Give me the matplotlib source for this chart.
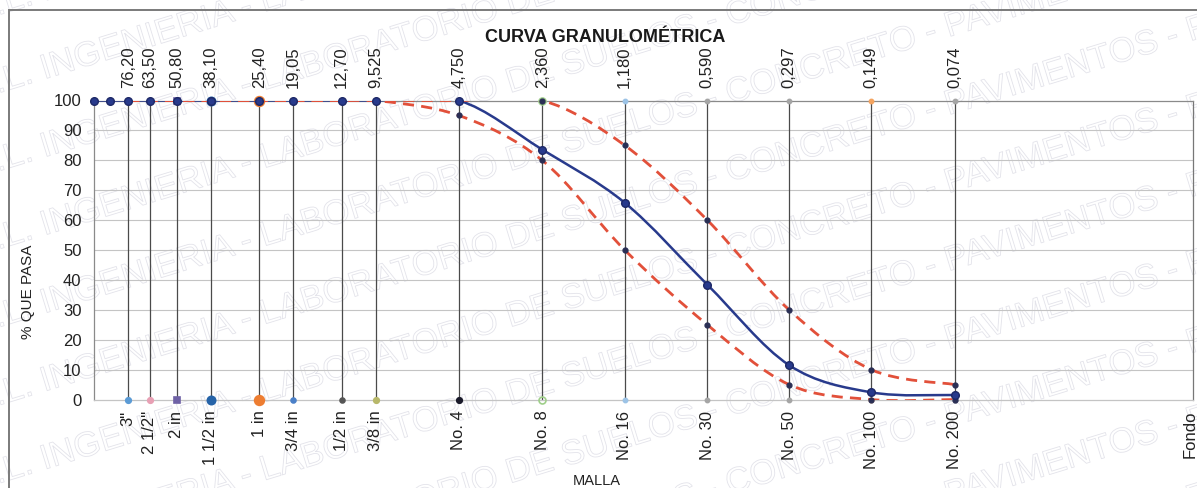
import numpy as np
import matplotlib
matplotlib.use('Agg')
import matplotlib.pyplot as plt
import matplotlib.patheffects as pe
from matplotlib.path import Path
from matplotlib.patches import PathPatch, Rectangle

plt.rcParams['font.family'] = ['Liberation Sans', 'DejaVu Sans']

# =============================================================================
# Datos del ensayo
# =============================================================================
# aberturas de los tamices (mm) y su nombre
aberturas = [76.2, 63.5, 50.8, 38.1, 25.4, 19.05, 12.7, 9.525,
             4.75, 2.36, 1.18, 0.59, 0.297, 0.149, 0.074]
aberturas_txt = ['76,20', '63,50', '50,80', '38,10', '25,40', '19,05', '12,70', '9,525',
                 '4,750', '2,360', '1,180', '0,590', '0,297', '0,149', '0,074']
mallas = ['3"', '2 1/2"', '2 in', '1 1/2 in', '1 in', '3/4 in', '1/2 in', '3/8 in',
          'No. 4', 'No. 8', 'No. 16', 'No. 30', 'No. 50', 'No. 100', 'No. 200']
fondo = 0.01

# curva granulometrica de la muestra
tamanos = [101.6, 88.9, 76.2, 63.5, 50.8, 38.1, 25.4, 19.05, 12.7, 9.525,
           4.75, 2.36, 1.18, 0.59, 0.297, 0.149, 0.074]
pasa = [100, 100, 100, 100, 100, 100, 100, 100, 100, 100,
        100, 83.6, 65.8, 38.4, 11.5, 2.4, 1.5]

# limites del huso granulometrico
lim_sup = [100, 100, 100, 100, 100, 100, 100, 100, 100, 100, 85, 60, 30, 10, 5]
lim_inf = [100, 100, 100, 100, 100, 100, 100, 100, 95, 80, 50, 25, 5, 0, 0]

# colores de los marcadores en los extremos de cada malla
extremo_col = ['#5b9bd5', '#e8a0b4', '#6f62a6', '#2563a8', '#ed7d31', '#4a80c8', '#555555',
               '#b8b86a', '#1a1a2a', '#9fcf8a', '#9cc3e6', '#a5a5a5', '#a5a5a5', '#f4a460', '#a5a5a5']
extremo_mk = ['o', 'o', 's', 'o', 'o', 'o', 'o', 'o', 'o', 'o', 'o', 'o', 'o', 'o', 'o']
extremo_ms = [4, 4, 4, 6, 7, 3.5, 3.5, 4, 4, 5, 3, 3, 3, 3, 3]

azul = '#283a8c'
rojo = '#e2503a'


def curva_suave(x, y):
    # curva suavizada (Bezier tipo Catmull-Rom) trazada en escala log
    pts = np.column_stack([np.log10(x), np.asarray(y, float)])
    n = len(pts)
    verts = [pts[0]]
    codes = [Path.MOVETO]
    for i in range(n - 1):
        p0 = pts[i - 1] if i > 0 else pts[i]
        p1 = pts[i]
        p2 = pts[i + 1]
        p3 = pts[i + 2] if i + 2 < n else pts[i + 1]
        verts += [p1 + (p2 - p0) / 6, p2 - (p3 - p1) / 6, p2]
        codes += [Path.CURVE4] * 3
    verts = np.array(verts)
    verts[:, 0] = 10 ** verts[:, 0]
    return Path(verts, codes)


# =============================================================================
# Grafico
# =============================================================================
fig = plt.figure(figsize=(11.97, 4.88), dpi=100)
ax = fig.add_axes([94 / 1197, 1 - 399.5 / 488, 1099 / 1197, 299 / 488])
ax.patch.set_facecolor('none')

# marca de agua
marca = 'R.L. INGENIERIA - LABORATORIO DE SUELOS - CONCRETO - PAVIMENTOS - '
for y0 in np.arange(-1.3, 1.0, 0.16):
    t = fig.text(-0.02, y0, marca * 2, rotation=17, rotation_mode='anchor',
                 ha='left', va='bottom', fontsize=25, color='none', zorder=-1,
                 path_effects=[pe.Stroke(linewidth=0.6, foreground='#e3e3ea')])
    t.set_clip_on(True)
    t.set_clip_box(fig.bbox)

# marco exterior
fig.add_artist(Rectangle((9 / 1197, -0.05), 1.2, 1 - 10 / 488 + 0.05,
                         transform=fig.transFigure, fill=False,
                         edgecolor='#7a7a7a', lw=1.4))

ax.set_xscale('log')
ax.set_xlim(101.6, fondo)
ax.set_ylim(0, 100)

# lineas horizontales
ax.hlines(range(10, 100, 10), 101.6, fondo, colors='#c4c4c4', lw=0.8, zorder=1)
for lado, col in [('top', '#8a8a8a'), ('left', '#8a8a8a'), ('right', '#777777'), ('bottom', '#c4c4c4')]:
    ax.spines[lado].set_color(col)
    ax.spines[lado].set_linewidth(0.9)

# lineas verticales de cada malla
ax.vlines(aberturas, 0, 100, colors='#4a4a4a', lw=0.9, zorder=2)
for s, c, m, ms in zip(aberturas, extremo_col, extremo_mk, extremo_ms):
    ax.plot([s, s], [0, 100], ls='none', marker=m, ms=ms, color=c,
            mfc=c if s != 2.36 else 'none', mec=c, mew=1.2, zorder=3, clip_on=False)

# curva de la muestra
ax.add_patch(PathPatch(curva_suave(tamanos, pasa), fill=False, edgecolor=azul,
                       lw=1.8, zorder=4))

# limites
for lim in [lim_sup, lim_inf]:
    ax.add_patch(PathPatch(curva_suave(aberturas, lim), fill=False, edgecolor=rojo,
                           lw=2.0, linestyle=(0, (4, 2.6)), zorder=5))
    ax.plot(aberturas[8:], lim[8:], ls='none', marker='o', ms=3.5, color='#2a2f55',
            zorder=6, clip_on=False)

ax.plot(tamanos, pasa, ls='none', marker='o', ms=5.5, color=azul, mec='#1d2866',
        zorder=7, clip_on=False)

# etiquetas de abertura (arriba) y de malla (abajo)
ax.set_xticks([])
ax.xaxis.set_minor_locator(matplotlib.ticker.NullLocator())
for s, t, m in zip(aberturas, aberturas_txt, mallas):
    ax.annotate(t, xy=(s, 100), xytext=(0, 9), textcoords='offset points',
                rotation=90, ha='center', va='bottom', fontsize=12, color='#222222')
    ax.annotate(m, xy=(s, 0), xytext=(0, -8), textcoords='offset points',
                rotation=90, ha='center', va='top', fontsize=12, color='#222222')
ax.annotate('Fondo', xy=(fondo, 0), xytext=(-2, -8), textcoords='offset points',
            rotation=90, ha='center', va='top', fontsize=12, color='#222222',
            annotation_clip=False)

ax.set_yticks(range(0, 101, 10))
ax.tick_params(axis='y', length=0, pad=9, labelsize=12, labelcolor='#222222')

fig.text(605 / 1197, 1 - 38 / 488, 'CURVA GRANULOMÉTRICA', ha='center', va='center',
         fontsize=13, fontweight='bold', color='#1a1a1a')
fig.text(597 / 1197, 1 - 481 / 488, 'MALLA', ha='center', va='center',
         fontsize=10.5, color='#222222')
fig.text(28 / 1197, 1 - 292 / 488, '% QUE PASA', ha='center', va='center',
         rotation=90, fontsize=11, color='#222222')

fig.savefig('out.png', dpi=100, facecolor='white')
